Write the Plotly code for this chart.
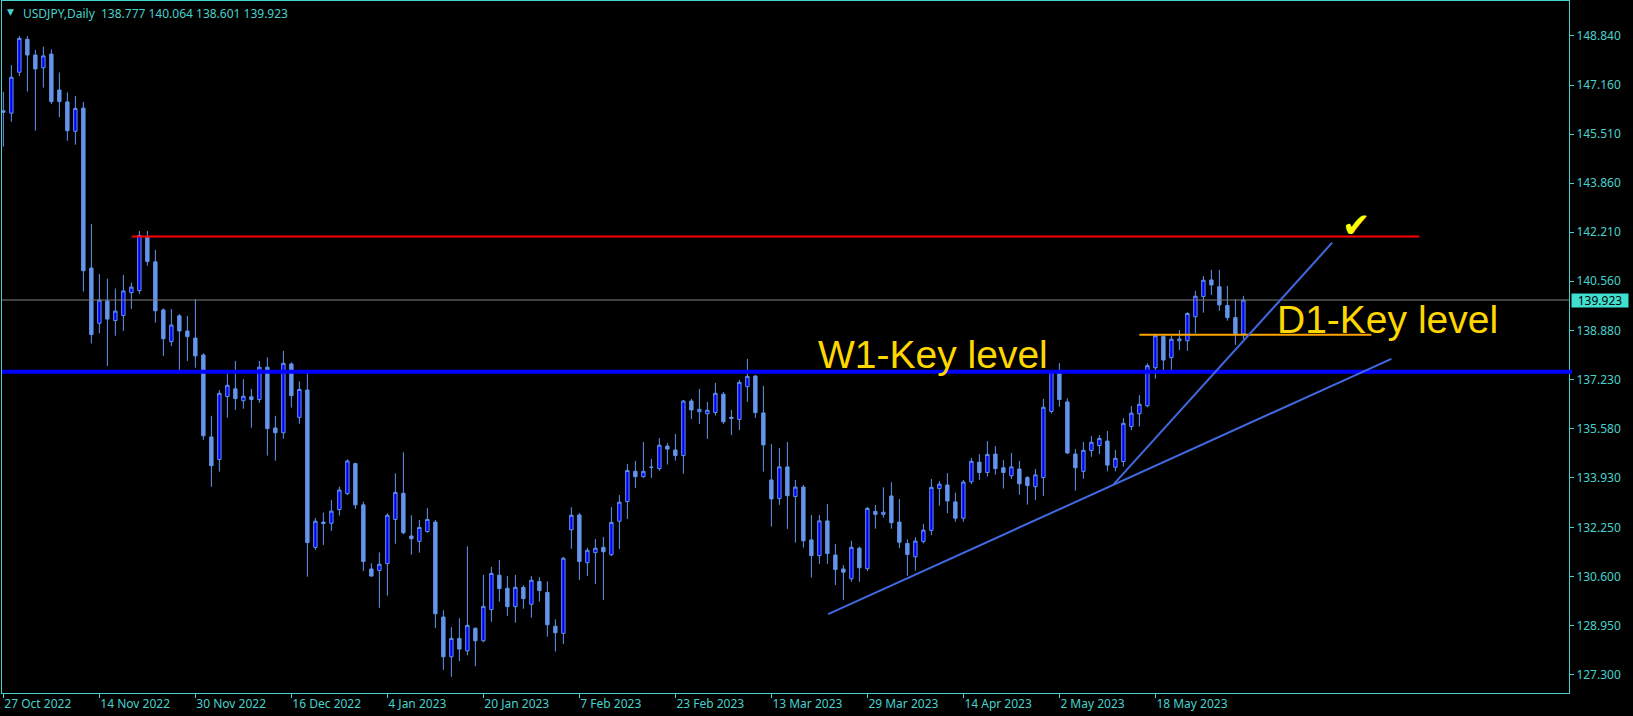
import pandas as pd
import plotly.graph_objects as go

# ---------------- data ----------------
dates = [d.strftime('%Y-%m-%d') for d in pd.bdate_range('2022-10-27', '2023-06-02')
         if d.strftime('%Y-%m-%d') != '2022-12-26']

opens = [146.30, 146.22, 147.60, 148.71, 148.18, 147.75, 148.21, 147.00, 146.60, 145.61,
         146.39, 141.00, 139.14, 139.89, 139.23, 139.40, 140.17, 140.24, 142.04, 141.21,
         139.59, 138.52, 139.39, 138.88, 138.64, 138.07, 135.31, 134.55, 136.67, 136.93,
         136.53, 136.66, 136.57, 137.66, 135.61, 135.45, 137.77, 135.97, 136.89, 131.59,
         132.44, 132.40, 132.86, 133.40, 134.41, 133.02, 130.86, 130.81, 131.04, 132.53,
         133.41, 131.97, 131.79, 132.12, 132.44, 129.24, 127.90, 128.52, 128.10, 128.86,
         128.44, 129.49, 130.65, 130.21, 129.59, 130.24, 129.67, 130.44, 130.07, 128.93,
         128.69, 132.18, 132.68, 131.07, 131.41, 131.59, 131.34, 132.47, 133.13, 134.15,
         133.97, 134.28, 134.24, 135.00, 134.87, 134.68, 136.52, 136.16, 136.09, 136.13,
         136.75, 135.97, 135.90, 137.00, 137.36, 136.12, 133.86, 133.23, 134.30, 133.30,
         133.62, 131.84, 131.31, 132.48, 131.33, 130.86, 130.53, 131.56, 130.87, 132.80,
         132.70, 133.32, 132.44, 131.72, 131.27, 131.79, 132.16, 133.57, 133.69, 133.12,
         132.57, 133.80, 134.46, 134.11, 134.73, 134.27, 134.00, 134.23, 133.94, 133.63,
         133.94, 136.17, 137.49, 136.49, 134.73, 134.15, 134.85, 135.02, 135.17, 134.29,
         134.48, 135.66, 136.09, 136.36, 137.64, 138.69, 137.98, 138.55, 138.55, 139.36,
         140.04, 140.60, 140.37, 139.74, 139.33, 138.777]

highs = [146.94, 147.84, 148.82, 148.82, 148.35, 148.46, 148.37, 147.59, 146.92, 146.80,
         146.60, 142.49, 140.80, 140.64, 140.31, 140.77, 140.51, 142.25, 142.25, 141.61,
         139.64, 139.62, 139.45, 139.39, 139.95, 138.13, 136.02, 136.89, 137.45, 137.87,
         137.26, 136.93, 137.87, 137.99, 136.02, 138.21, 137.82, 137.18, 137.49, 132.58,
         132.76, 133.18, 133.63, 134.55, 134.44, 133.13, 131.05, 131.42, 132.74, 134.08,
         134.79, 132.67, 132.51, 132.91, 132.51, 129.47, 128.90, 129.20, 131.62, 128.89,
         130.66, 130.93, 131.16, 130.62, 130.66, 130.31, 130.62, 130.58, 130.44, 129.16,
         131.27, 132.94, 132.75, 131.57, 131.87, 131.94, 132.95, 133.35, 134.40, 134.50,
         135.14, 134.57, 135.27, 135.11, 135.41, 136.55, 136.59, 136.93, 136.49, 137.13,
         136.82, 136.22, 137.23, 137.94, 137.40, 137.03, 135.07, 134.94, 135.14, 133.86,
         133.69, 132.68, 132.68, 133.05, 131.70, 130.99, 131.81, 131.61, 132.95, 133.02,
         133.61, 133.78, 133.22, 131.86, 131.93, 132.38, 133.89, 133.82, 134.09, 133.43,
         133.86, 134.60, 134.73, 135.17, 135.00, 134.53, 134.77, 134.50, 133.99, 134.23,
         136.59, 137.53, 137.80, 136.61, 134.90, 135.14, 135.34, 135.37, 135.51, 134.87,
         135.94, 136.35, 136.72, 137.79, 138.78, 138.74, 138.71, 138.91, 139.51, 140.23,
         140.73, 140.94, 140.94, 140.40, 139.95, 140.064]

lows = [145.09, 145.93, 147.47, 146.95, 145.63, 147.08, 146.53, 146.08, 145.29, 145.16,
        140.21, 138.46, 138.80, 137.70, 138.72, 138.88, 139.62, 140.13, 141.08, 139.16,
        138.04, 138.37, 137.50, 137.87, 137.64, 135.21, 133.63, 134.14, 135.96, 136.22,
        136.26, 135.62, 136.46, 134.68, 134.51, 135.25, 136.30, 135.75, 130.60, 131.50,
        131.67, 132.14, 132.66, 133.35, 132.88, 130.79, 130.60, 129.55, 129.96, 131.71,
        132.03, 131.34, 131.41, 132.08, 128.87, 127.46, 127.22, 127.75, 127.95, 127.58,
        128.39, 129.08, 129.76, 129.28, 129.05, 129.52, 129.22, 129.76, 128.58, 128.08,
        128.33, 131.54, 130.49, 130.62, 130.35, 129.81, 131.30, 131.53, 132.54, 133.59,
        133.93, 133.93, 134.17, 134.38, 134.51, 134.07, 135.91, 135.75, 135.24, 136.03,
        135.75, 135.37, 135.54, 136.49, 135.95, 134.14, 132.29, 133.02, 132.21, 131.75,
        131.58, 130.57, 131.03, 131.03, 130.32, 129.81, 130.43, 130.43, 130.79, 132.22,
        132.59, 132.22, 131.56, 130.63, 130.80, 131.72, 132.00, 132.99, 132.74, 132.45,
        132.45, 133.72, 133.86, 133.97, 134.04, 133.57, 133.89, 133.36, 133.03, 133.18,
        133.32, 136.10, 136.33, 134.73, 133.50, 133.90, 134.64, 134.73, 134.15, 134.15,
        134.31, 135.54, 135.66, 136.31, 137.27, 137.44, 137.50, 138.24, 138.21, 138.80,
        139.50, 140.09, 139.56, 139.23, 138.41, 138.601]

closes = [146.25, 147.43, 148.74, 148.18, 147.71, 148.15, 146.61, 146.61, 145.63, 146.38,
          140.91, 138.76, 139.92, 139.28, 139.55, 140.23, 140.36, 142.10, 141.22, 139.56,
          138.62, 139.08, 138.88, 138.69, 138.04, 135.35, 134.34, 136.78, 137.05, 136.60,
          136.68, 136.57, 137.66, 135.59, 135.45, 137.79, 136.70, 136.91, 131.75, 132.47,
          132.39, 132.81, 133.52, 134.50, 133.02, 131.11, 130.62, 131.02, 132.67, 133.44,
          132.08, 131.88, 132.26, 132.53, 129.35, 127.90, 128.52, 128.16, 128.96, 128.44,
          129.60, 130.71, 130.20, 129.59, 130.24, 129.86, 130.48, 130.13, 128.98, 128.71,
          131.22, 132.67, 131.11, 131.49, 131.56, 131.44, 132.43, 133.11, 134.18, 133.97,
          134.15, 134.29, 135.03, 134.90, 134.68, 136.52, 136.22, 136.24, 136.21, 136.78,
          135.82, 135.93, 137.15, 137.35, 136.13, 135.04, 133.22, 134.30, 133.33, 133.62,
          131.81, 131.31, 132.48, 131.38, 130.84, 130.75, 131.59, 130.90, 132.90, 132.70,
          132.77, 132.42, 131.76, 131.35, 131.80, 132.17, 133.61, 133.72, 133.15, 132.57,
          133.79, 134.49, 134.11, 134.72, 134.24, 134.11, 134.30, 133.73, 133.67, 134.03,
          136.31, 137.49, 136.57, 134.77, 134.27, 134.86, 135.13, 135.26, 134.36, 134.59,
          135.77, 136.11, 136.41, 137.71, 138.72, 137.90, 138.60, 138.61, 139.47, 140.05,
          140.59, 140.43, 139.76, 139.33, 138.78, 139.923]

tick_dates = ['2022-10-27', '2022-11-14', '2022-11-30', '2022-12-16', '2023-01-04', '2023-01-20',
              '2023-02-07', '2023-02-23', '2023-03-13', '2023-03-29', '2023-04-14', '2023-05-02',
              '2023-05-18']
tick_labels = ['27 Oct 2022', '14 Nov 2022', '30 Nov 2022', '16 Dec 2022', '4 Jan 2023', '20 Jan 2023',
               '7 Feb 2023', '23 Feb 2023', '13 Mar 2023', '29 Mar 2023', '14 Apr 2023', '2 May 2023',
               '18 May 2023']

price_ticks = [148.840, 147.160, 145.510, 143.860, 142.210, 140.560, 138.880,
               137.230, 135.580, 133.930, 132.250, 130.600, 128.950, 127.300]
price_tick_labels = ['148.840', '147.160', '145.510', '143.860', '142.210', '140.560', '138.880',
                     '137.230', '135.580', '133.930', '132.250', '130.600', '128.950', '127.300']

symbol_title = 'USDJPY,Daily'
last_ohlc = ['138.777', '140.064', '138.601', '139.923']
current_price = 139.923

# drawn objects (bar index positions, prices)
red_level = 142.06
red_span = [16.05, 177.0]
w1_level = 137.51
d1_level = 138.75
d1_span = [142.0, 171.0]
trend_low_x = [103.1, 173.5]
trend_low_y = [129.34, 137.94]
trend_steep_x = [138.8, 166.1]
trend_steep_y = [133.72, 141.855]
w1_label_pos = [101.58, 138.10]
d1_label_pos = [158.96, 139.28]
check_pos = [169.2, 142.45]

# ---------------- style ----------------
AX = '#48D1CC'
WICK = '#6495ED'
BULL = '#0000FF'
BEAR = '#6495ED'
TREND = '#4169E1'
TEXT_Y = '#FFD700'

fig = go.Figure()
fig.add_trace(go.Candlestick(
    x=dates, open=opens, high=highs, low=lows, close=closes,
    increasing=dict(line=dict(color=WICK, width=1), fillcolor=BULL),
    decreasing=dict(line=dict(color=WICK, width=1), fillcolor=BEAR),
    whiskerwidth=0, hoverinfo='skip', showlegend=False,
))

shapes = [
    dict(type='line', xref='paper', yref='y', x0=0, x1=1, y0=current_price, y1=current_price,
         line=dict(color='#808080', width=1), layer='above'),
    dict(type='line', xref='paper', yref='y', x0=0, x1=1.002, y0=w1_level, y1=w1_level,
         line=dict(color='#0000FF', width=4), layer='above'),
    dict(type='line', xref='x', yref='y', x0=red_span[0], x1=red_span[1], y0=red_level, y1=red_level,
         line=dict(color='#FF0000', width=2), layer='above'),
    dict(type='line', xref='x', yref='y', x0=d1_span[0], x1=d1_span[1], y0=d1_level, y1=d1_level,
         line=dict(color='#FFA500', width=2), layer='above'),
    dict(type='line', xref='x', yref='y', x0=trend_low_x[0], x1=trend_low_x[1],
         y0=trend_low_y[0], y1=trend_low_y[1], line=dict(color=TREND, width=2), layer='above'),
    dict(type='line', xref='x', yref='y', x0=trend_steep_x[0], x1=trend_steep_x[1],
         y0=trend_steep_y[0], y1=trend_steep_y[1], line=dict(color=TREND, width=2), layer='above'),
]

annotations = [
    dict(xref='x', yref='y', x=w1_label_pos[0], y=w1_label_pos[1], text='W1-Key level',
         showarrow=False, xanchor='left', yanchor='middle',
         font=dict(family='Liberation Sans', size=39, color=TEXT_Y)),
    dict(xref='x', yref='y', x=d1_label_pos[0], y=d1_label_pos[1], text='D1-Key level',
         showarrow=False, xanchor='left', yanchor='middle',
         font=dict(family='Liberation Sans', size=39, color=TEXT_Y)),
    dict(xref='x', yref='y', x=check_pos[0], y=check_pos[1], text='\u2714',
         showarrow=False, xanchor='center', yanchor='middle',
         font=dict(family='DejaVu Sans', size=34, color='#FFFF00')),
    dict(xref='paper', yref='paper', x=(10.5 - 2) / 1567, y=1 - (12.5 - 1) / 692, text='\u25BC',
         showarrow=False, xanchor='center', yanchor='middle',
         font=dict(family='DejaVu Sans', size=9, color=AX)),
    dict(xref='paper', yref='paper', x=(21 - 2) / 1567, y=1 - (13.3 - 1) / 692,
         text=symbol_title + '\u00a0\u00a0' + ' '.join(last_ohlc),
         showarrow=False, xanchor='left', yanchor='middle',
         font=dict(family='Noto Sans', size=12, color=AX)),
    dict(xref='paper', yref='y', x=(1571 - 2) / 1567, y=current_price, text=last_ohlc[3],
         showarrow=False, xanchor='left', yanchor='middle', width=56, height=13,
         bgcolor='#40E0D0', borderpad=0,
         font=dict(family='Noto Sans', size=12, color='#000000')),
]

fig.update_layout(
    width=1633, height=716,
    margin=dict(l=2, r=64, t=1, b=23),
    paper_bgcolor='#000000', plot_bgcolor='#000000',
    showlegend=False, boxgap=0.4,
    shapes=shapes, annotations=annotations,
    xaxis=dict(type='category', range=[-0.17, 195.7], rangeslider=dict(visible=False),
               showgrid=False, zeroline=False, showline=True, mirror=True,
               linecolor=AX, linewidth=1, ticks='outside', ticklen=4, tickcolor=AX,
               tickvals=tick_dates, ticktext=tick_labels, tickangle=0,
               ticklabelposition='outside right',
               tickfont=dict(family='Noto Sans', size=12, color=AX)),
    yaxis=dict(side='right', range=[126.68, 150.0], showgrid=False, zeroline=False,
               showline=True, mirror=True, linecolor=AX, linewidth=1,
               ticks='outside', ticklen=4, tickcolor=AX,
               tickvals=price_ticks, ticktext=price_tick_labels,
               tickfont=dict(family='Noto Sans', size=12, color=AX)),
)

fig.write_html("out.html", config={'displayModeBar': False},
               post_script="document.body.style.margin='0';")
